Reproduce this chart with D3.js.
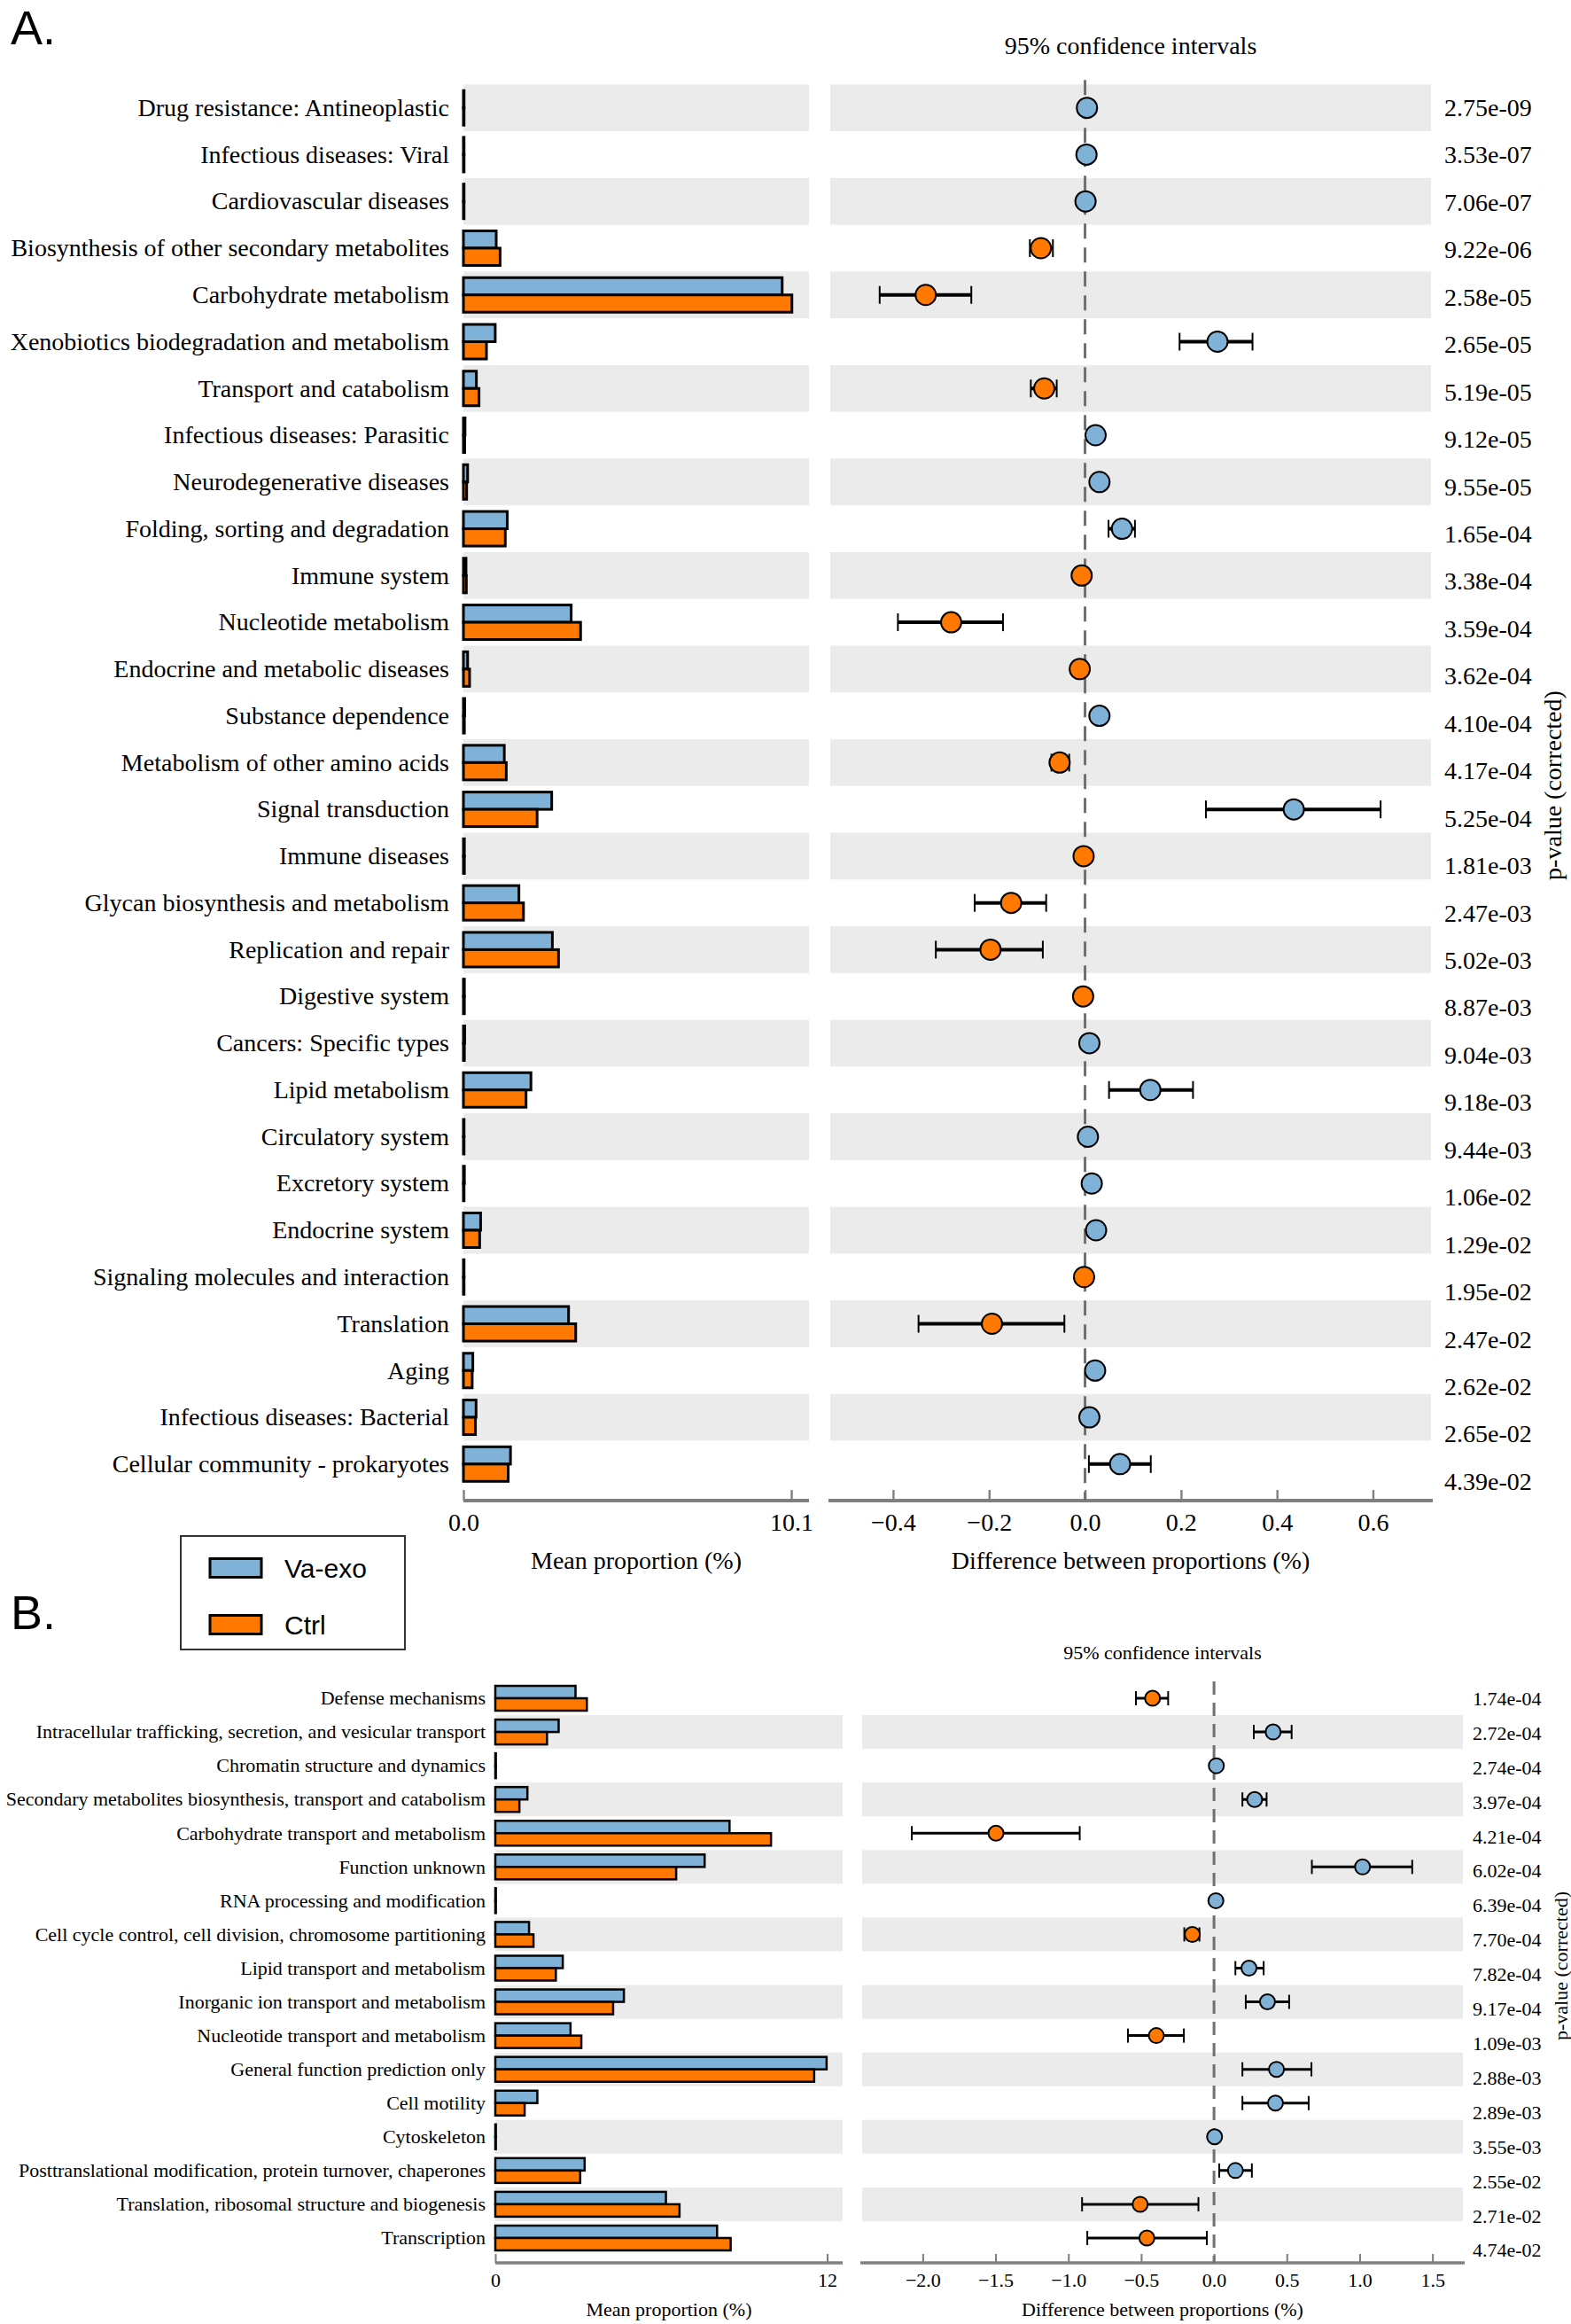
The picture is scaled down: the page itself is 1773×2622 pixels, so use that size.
<!DOCTYPE html>
<html>
<head>
<meta charset="utf-8">
<script src="https://cdn.jsdelivr.net/npm/d3@7"></script>
<style>
  body { margin: 0; background: #fff; }
  text { font-family: "Liberation Serif", "Times New Roman", serif; fill: #000; }
  .sans { font-family: "Liberation Sans", Arial, sans-serif; }
</style>
</head>
<body>
<script>
// ---- panel A data (KEGG level 2) ----
const catsA = ['Drug resistance: Antineoplastic', 'Infectious diseases: Viral', 'Cardiovascular diseases',
  'Biosynthesis of other secondary metabolites', 'Carbohydrate metabolism', 'Xenobiotics biodegradation and metabolism',
  'Transport and catabolism', 'Infectious diseases: Parasitic', 'Neurodegenerative diseases',
  'Folding, sorting and degradation', 'Immune system', 'Nucleotide metabolism', 'Endocrine and metabolic diseases',
  'Substance dependence', 'Metabolism of other amino acids', 'Signal transduction', 'Immune diseases',
  'Glycan biosynthesis and metabolism', 'Replication and repair', 'Digestive system', 'Cancers: Specific types',
  'Lipid metabolism', 'Circulatory system', 'Excretory system', 'Endocrine system',
  'Signaling molecules and interaction', 'Translation', 'Aging', 'Infectious diseases: Bacterial',
  'Cellular community - prokaryotes']
const vaA = [0.02, 0.02, 0.02, 1.01, 9.82, 0.98, 0.40, 0.05, 0.13, 1.35, 0.08, 3.32, 0.13, 0.04, 1.26,
  2.72, 0.03, 1.71, 2.74, 0.03, 0.04, 2.08, 0.02, 0.03, 0.53, 0.02, 3.24, 0.29, 0.39, 1.45]
const ctrlA = [0.02, 0.02, 0.02, 1.13, 10.12, 0.71, 0.48, 0.04, 0.10, 1.29, 0.09, 3.61, 0.19, 0.03, 1.32,
  2.27, 0.03, 1.85, 2.93, 0.03, 0.03, 1.93, 0.02, 0.02, 0.50, 0.02, 3.46, 0.27, 0.37, 1.38]
const diffA = [0.004, 0.003, 0.001, -0.092, -0.332, 0.276, -0.085, 0.022, 0.030, 0.077, -0.007, -0.279, -0.011,
  0.030, -0.053, 0.435, -0.003, -0.154, -0.197, -0.004, 0.009, 0.136, 0.006, 0.014, 0.023, -0.002, -0.194,
  0.021, 0.009, 0.073]
const loA = [0.002, 0.001, -0.001, -0.115, -0.428, 0.197, -0.113, 0.018, 0.026, 0.049, -0.009, -0.390, -0.014,
  0.027, -0.070, 0.252, -0.005, -0.230, -0.311, -0.006, 0.007, 0.050, 0.004, 0.011, 0.013, -0.004, -0.347,
  0.012, 0.006, 0.008]
const hiA = [0.006, 0.005, 0.003, -0.067, -0.237, 0.349, -0.059, 0.026, 0.034, 0.104, -0.005, -0.171, -0.008,
  0.033, -0.033, 0.616, -0.001, -0.081, -0.088, -0.002, 0.011, 0.225, 0.008, 0.017, 0.032, 0.000, -0.043,
  0.030, 0.012, 0.137]
const pA = ['2.75e-09', '3.53e-07', '7.06e-07', '9.22e-06', '2.58e-05', '2.65e-05', '5.19e-05', '9.12e-05',
  '9.55e-05', '1.65e-04', '3.38e-04', '3.59e-04', '3.62e-04', '4.10e-04', '4.17e-04', '5.25e-04', '1.81e-03',
  '2.47e-03', '5.02e-03', '8.87e-03', '9.04e-03', '9.18e-03', '9.44e-03', '1.06e-02', '1.29e-02', '1.95e-02',
  '2.47e-02', '2.62e-02', '2.65e-02', '4.39e-02']
const barTicksA = [0, 10.1]
const ciTicksA = [-0.4, -0.2, 0.0, 0.2, 0.4, 0.6]

// ---- panel B data (COG) ----
const catsB = ['Defense mechanisms', 'Intracellular trafficking, secretion, and vesicular transport',
  'Chromatin structure and dynamics', 'Secondary metabolites biosynthesis, transport and catabolism',
  'Carbohydrate transport and metabolism', 'Function unknown', 'RNA processing and modification',
  'Cell cycle control, cell division, chromosome partitioning', 'Lipid transport and metabolism',
  'Inorganic ion transport and metabolism', 'Nucleotide transport and metabolism', 'General function prediction only',
  'Cell motility', 'Cytoskeleton', 'Posttranslational modification, protein turnover, chaperones',
  'Translation, ribosomal structure and biogenesis', 'Transcription']
const vaB = [2.90, 2.29, 0.02, 1.16, 8.47, 7.57, 0.02, 1.22, 2.44, 4.65, 2.72, 11.98, 1.52, 0.02, 3.23, 6.17, 8.02]
const ctrlB = [3.31, 1.87, 0.02, 0.87, 9.97, 6.54, 0.02, 1.38, 2.19, 4.26, 3.11, 11.53, 1.06, 0.02, 3.07, 6.66, 8.51]
const diffB = [-0.422, 0.406, 0.016, 0.279, -1.497, 1.020, 0.013, -0.149, 0.240, 0.367, -0.396, 0.429, 0.422,
  0.004, 0.147, -0.507, -0.461]
const loB = [-0.536, 0.273, 0.012, 0.195, -2.075, 0.672, 0.010, -0.204, 0.147, 0.218, -0.591, 0.195, 0.195,
  0.002, 0.036, -0.906, -0.870]
const hiB = [-0.315, 0.533, 0.020, 0.361, -0.922, 1.361, 0.016, -0.100, 0.341, 0.516, -0.207, 0.669, 0.650,
  0.006, 0.260, -0.107, -0.049]
const pB = ['1.74e-04', '2.72e-04', '2.74e-04', '3.97e-04', '4.21e-04', '6.02e-04', '6.39e-04', '7.70e-04',
  '7.82e-04', '9.17e-04', '1.09e-03', '2.88e-03', '2.89e-03', '3.55e-03', '2.55e-02', '2.71e-02', '4.74e-02']
const barTicksB = [0, 12]
const ciTicksB = [-2.0, -1.5, -1.0, -0.5, 0.0, 0.5, 1.0, 1.5]

const groups = ['Va-exo', 'Ctrl']
const colors = { 'Va-exo': '#80b1d6', 'Ctrl': '#ff7800' }

const svg = d3.select('body').append('svg').attr('width', 1773).attr('height', 2622)

function drawPanel(d, g) {
  const panel = svg.append('g')
  const y = d3.scaleBand().domain(d.cats).range(g.rows)
  const yp = d3.scaleBand().domain(d.cats).range(g.prows)
  const xb = d3.scaleLinear().domain([0, d.barTicks[1]]).range(g.barRange)
  const xc = d3.scaleLinear().domain(g.ciDomain).range(g.ciRange)
  const bh = g.barH

  // stripes
  d.cats.forEach((c, i) => {
    if (i % 2 !== g.stripe) return
    panel.append('rect').attr('x', g.barRange[0]).attr('y', y(c))
      .attr('width', g.barEnd - g.barRange[0]).attr('height', y.bandwidth()).attr('fill', '#ebebeb')
    panel.append('rect').attr('x', g.ciRange[0]).attr('y', y(c))
      .attr('width', g.ciRange[1] - g.ciRange[0]).attr('height', y.bandwidth()).attr('fill', '#ebebeb')
  })

  // labels
  panel.selectAll('text.cat').data(d.cats).enter().append('text')
    .attr('x', g.labelX).attr('y', c => y(c) + y.bandwidth() / 2)
    .attr('dy', '0.33em').attr('text-anchor', 'end').attr('font-size', g.fs).text(c => c)

  // bars
  const mid = c => y(c) + y.bandwidth() / 2
  panel.selectAll('rect.va').data(d.cats).enter().append('rect')
    .attr('x', xb(0)).attr('y', c => mid(c) - bh).attr('height', bh)
    .attr('width', (c, i) => xb(d.va[i]) - xb(0))
    .attr('fill', colors['Va-exo']).attr('stroke', '#000').attr('stroke-width', g.sw)
  panel.selectAll('rect.ctrl').data(d.cats).enter().append('rect')
    .attr('x', xb(0)).attr('y', c => mid(c)).attr('height', bh)
    .attr('width', (c, i) => xb(d.ctrl[i]) - xb(0))
    .attr('fill', colors['Ctrl']).attr('stroke', '#000').attr('stroke-width', g.sw)

  // axes
  const axisY = g.axisY
  panel.append('line').attr('x1', g.barRange[0]).attr('x2', g.barEnd).attr('y1', axisY).attr('y2', axisY)
    .attr('stroke', '#808080').attr('stroke-width', g.aw)
  panel.append('line').attr('x1', g.ciRange[0] - 2).attr('x2', g.ciRange[1] + 2).attr('y1', axisY).attr('y2', axisY)
    .attr('stroke', '#808080').attr('stroke-width', g.aw)
  const ab = panel.append('g').attr('transform', `translate(0,${axisY})`)
    .call(d3.axisBottom(xb).tickValues(d.barTicks).tickFormat(d.barFmt).tickSize(-g.tick).tickPadding(g.pad))
  const ac = panel.append('g').attr('transform', `translate(0,${axisY})`)
    .call(d3.axisBottom(xc).tickValues(d.ciTicks).tickFormat(d3.format('.1f')).tickSize(-g.tick).tickPadding(g.pad))
  ;[ab, ac].forEach(a => {
    a.select('.domain').remove()
    a.selectAll('.tick line').attr('stroke', '#808080').attr('stroke-width', g.aw * 0.6)
    a.selectAll('.tick text').attr('font-size', g.fs).attr('font-family', '"Liberation Serif", serif').attr('fill', '#000')
  })

  panel.append('text').attr('x', (g.barRange[0] + g.barEnd) / 2 + g.titleShift).attr('y', g.titleY)
    .attr('text-anchor', 'middle').attr('font-size', g.fs).text('Mean proportion (%)')
  panel.append('text').attr('x', (g.ciRange[0] + g.ciRange[1]) / 2).attr('y', g.titleY)
    .attr('text-anchor', 'middle').attr('font-size', g.fs).text('Difference between proportions (%)')
  panel.append('text').attr('x', (g.ciRange[0] + g.ciRange[1]) / 2).attr('y', g.ciTitleY)
    .attr('text-anchor', 'middle').attr('font-size', g.fs).text('95% confidence intervals')

  // zero line
  panel.append('line').attr('x1', xc(0)).attr('x2', xc(0)).attr('y1', g.rows[0] - g.zeroExtra).attr('y2', axisY)
    .attr('stroke', '#707070').attr('stroke-width', 3).attr('stroke-dasharray', g.dash)

  // error bars + points
  d.cats.forEach((c, i) => {
    const cy = mid(c)
    const e = panel.append('g').attr('stroke', '#000').attr('stroke-width', g.ew)
    e.append('line').attr('x1', xc(d.lo[i])).attr('x2', xc(d.hi[i])).attr('y1', cy).attr('y2', cy)
    e.append('line').attr('x1', xc(d.lo[i])).attr('x2', xc(d.lo[i])).attr('y1', cy - g.cap).attr('y2', cy + g.cap).attr('stroke-width', 2)
    e.append('line').attr('x1', xc(d.hi[i])).attr('x2', xc(d.hi[i])).attr('y1', cy - g.cap).attr('y2', cy + g.cap).attr('stroke-width', 2)
    panel.append('circle').attr('cx', xc(d.diff[i])).attr('cy', cy).attr('r', g.r)
      .attr('fill', d.diff[i] > 0 ? colors['Va-exo'] : colors['Ctrl']).attr('stroke', '#000').attr('stroke-width', 2)
  })

  // p-values
  panel.selectAll('text.p').data(d.cats).enter().append('text')
    .attr('x', g.pX).attr('y', c => yp(c) + yp.bandwidth() / 2).attr('dy', '0.33em')
    .attr('font-size', g.fs).text((c, i) => d.p[i])
  panel.append('text').attr('transform', `translate(${g.pLabel[0]},${g.pLabel[1]}) rotate(-90)`)
    .attr('text-anchor', 'middle').attr('dy', '0.33em').attr('font-size', g.fs).text('p-value (corrected)')
}

drawPanel(
  { cats: catsA, va: vaA, ctrl: ctrlA, diff: diffA, lo: loA, hi: hiA, p: pA,
    barTicks: barTicksA, barFmt: d3.format('.1f'), ciTicks: ciTicksA },
  { rows: [95.3, 1678.2], prows: [95, 1698.4], barRange: [523, 893], barEnd: 913,
    ciDomain: [-0.531, 0.721], ciRange: [937, 1615], stripe: 0, labelX: 507, fs: 28,
    barH: 19.5, sw: 3, axisY: 1693, aw: 4, tick: 12, pad: 14, titleY: 1770, titleShift: 0, ciTitleY: 61,
    zeroExtra: 5, dash: '17,10', ew: 4, cap: 10, r: 11.5, pX: 1630, pLabel: [1753, 886] })

drawPanel(
  { cats: catsB, va: vaB, ctrl: ctrlB, diff: diffB, lo: loB, hi: hiB, p: pB,
    barTicks: barTicksB, barFmt: d3.format('d'), ciTicks: ciTicksB },
  { rows: [1897, 2544], prows: [1897.2, 2558.6], barRange: [559, 933.5], barEnd: 951,
    ciDomain: [-2.416, 1.709], ciRange: [973, 1651], stripe: 1, labelX: 548, fs: 22,
    barH: 14, sw: 2.5, axisY: 2553, aw: 3.5, tick: 10, pad: 11, titleY: 2613, titleShift: 0, ciTitleY: 1872,
    zeroExtra: 0, dash: '15,9', ew: 3, cap: 8, r: 8.5, pX: 1662, pLabel: [1762, 2218] })

// panel letters
svg.append('text').attr('class', 'sans').attr('x', 12).attr('y', 50).attr('font-size', 54).text('A.')
svg.append('text').attr('class', 'sans').attr('x', 12).attr('y', 1838).attr('font-size', 54).text('B.')

// legend
const legend = svg.append('g')
legend.append('rect').attr('x', 204).attr('y', 1733).attr('width', 253).attr('height', 128)
  .attr('fill', '#fff').attr('stroke', '#333').attr('stroke-width', 2)
groups.forEach((gname, i) => {
  const ly = 1769 + i * 64
  legend.append('rect').attr('x', 237).attr('y', ly - 10.5).attr('width', 58).attr('height', 21)
    .attr('fill', colors[gname]).attr('stroke', '#000').attr('stroke-width', 3)
  legend.append('text').attr('class', 'sans').attr('x', 321).attr('y', ly).attr('dy', '0.36em')
    .attr('font-size', 30).text(gname)
})
</script>
</body>
</html>
